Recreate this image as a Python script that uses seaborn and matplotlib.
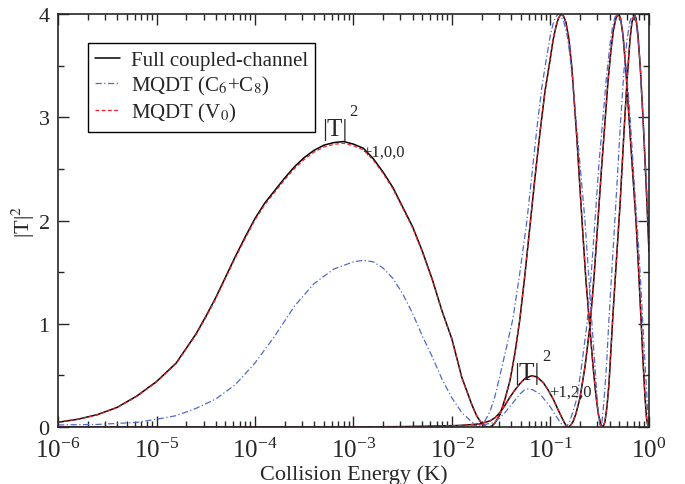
import numpy as np
import pandas as pd
import matplotlib
matplotlib.use("Agg")
import matplotlib.pyplot as plt
from matplotlib.ticker import LogLocator, MultipleLocator
import seaborn as sns

# log10(collision energy / K) and |T|^2
# |T|^2_{+1,0,0}, full coupled-channel
full_a_loge = [-6.0, -5.8, -5.6, -5.4, -5.2, -5.0, -4.8, -4.6, -4.5, -4.4,
               -4.3, -4.2, -4.1, -4.0, -3.9, -3.8, -3.7, -3.6, -3.5, -3.4,
               -3.3, -3.2, -3.1, -3.0, -2.9, -2.8, -2.7,
               -2.6, -2.5, -2.4, -2.3, -2.2, -2.1, -2.0, -1.9, -1.8, -1.75,
               -1.70, -1.66, -1.624, -1.594, -1.563, -1.513, -1.462, -1.411, -1.360, -1.310,
               -1.259, -1.208, -1.157, -1.107, -1.056, -1.005, -0.975, -0.944, -0.919, -0.893,
               -0.868, -0.843, -0.812, -0.782, -0.731, -0.680, -0.640, -0.599, -0.569, -0.538,
               -0.513, -0.487, -0.467, -0.447, -0.426, -0.406, -0.386, -0.365, -0.335, -0.294,
               -0.254, -0.223, -0.193, -0.173, -0.149, -0.132, -0.112, -0.086, -0.061, -0.036,
               -0.013, 0.0]
full_a_val = [0.046, 0.075, 0.12, 0.19, 0.30, 0.44, 0.62, 0.90, 1.07, 1.25,
              1.45, 1.65, 1.84, 2.02, 2.17, 2.29, 2.41, 2.52, 2.61, 2.68,
              2.73, 2.755, 2.765, 2.74, 2.70, 2.60, 2.47,
              2.32, 2.13, 1.94, 1.70, 1.43, 1.12, 0.85, 0.48, 0.22, 0.11,
              0.035, 0.005, 0.0, 0.01, 0.04, 0.12, 0.27, 0.45, 0.72, 1.05,
              1.48, 1.95, 2.42, 2.85, 3.25, 3.55, 3.74, 3.88, 3.96, 4.0,
              3.98, 3.92, 3.75, 3.47, 2.78, 2.0, 1.42, 0.95, 0.6, 0.3,
              0.12, 0.02, 0.0, 0.05, 0.2, 0.42, 0.75, 1.1, 1.55, 2.15,
              2.85, 3.35, 3.75, 3.92, 4.0, 3.96, 3.8, 3.45, 3.0, 2.5,
              2.0, 1.7]
# same channel, MQDT (V0)
v0_a_val = [0.045, 0.074, 0.118, 0.187, 0.296, 0.435, 0.614, 0.892, 1.06, 1.24,
            1.44, 1.638, 1.826, 2.006, 2.155, 2.275, 2.394, 2.503, 2.592, 2.663,
            2.712, 2.738, 2.748, 2.724, 2.685, 2.586, 2.457,
            2.308, 2.12, 1.93, 1.692, 1.424, 1.116, 0.847, 0.478, 0.219, 0.11,
            0.035, 0.005, 0.0, 0.01, 0.04, 0.12, 0.27, 0.45, 0.72, 1.05,
            1.48, 1.95, 2.42, 2.85, 3.25, 3.55, 3.74, 3.88, 3.96, 4.0,
            3.98, 3.92, 3.75, 3.47, 2.78, 2.0, 1.42, 0.95, 0.6, 0.3,
            0.12, 0.02, 0.0, 0.05, 0.2, 0.42, 0.75, 1.1, 1.55, 2.15,
            2.85, 3.35, 3.75, 3.92, 4.0, 3.96, 3.8, 3.45, 3.0, 2.5,
            2.0, 1.7]

# |T|^2_{+1,2,0}, full coupled-channel
full_b_loge = [-6.0, -4.0, -3.0, -2.5, -2.2, -1.919, -1.716, -1.614, -1.563, -1.513,
               -1.462, -1.411, -1.360, -1.310, -1.259, -1.191, -1.137, -1.073, -1.025, -0.972,
               -0.924, -0.886, -0.858, -0.838, -0.819, -0.797, -0.772, -0.741, -0.701, -0.650,
               -0.599, -0.558, -0.518, -0.482, -0.447, -0.416, -0.386, -0.360, -0.335, -0.312,
               -0.289, -0.264, -0.234, -0.203, -0.168, -0.132, -0.107, -0.081, -0.061, -0.041,
               -0.025, -0.013, 0.0]
full_b_val = [0.0, 0.0, 0.001, 0.004, 0.008, 0.015, 0.03, 0.06, 0.09, 0.14,
              0.21, 0.29, 0.36, 0.42, 0.47, 0.497, 0.485, 0.43, 0.36, 0.27,
              0.17, 0.094, 0.04, 0.01, 0.0, 0.015, 0.05, 0.13, 0.28, 0.58,
              0.98, 1.45, 2.0, 2.5, 2.95, 3.35, 3.65, 3.85, 3.96, 4.0,
              3.96, 3.8, 3.45, 3.0, 2.5, 2.0, 1.55, 1.05, 0.65, 0.3,
              0.09, 0.02, 0.05]
v0_b_val = [0.0, 0.0, 0.001, 0.004, 0.008, 0.015, 0.03, 0.06, 0.09, 0.14,
            0.21, 0.29, 0.36, 0.42, 0.468, 0.494, 0.483, 0.43, 0.36, 0.27,
            0.17, 0.094, 0.04, 0.01, 0.0, 0.015, 0.05, 0.13, 0.28, 0.58,
            0.98, 1.45, 2.0, 2.5, 2.95, 3.35, 3.65, 3.85, 3.96, 4.0,
            3.96, 3.8, 3.45, 3.0, 2.5, 2.0, 1.55, 1.05, 0.65, 0.3,
            0.09, 0.02, 0.05]

# MQDT (C6+C8), both channels
c68_a_loge = [-6.0, -5.6, -5.2, -5.0, -4.8, -4.6, -4.4, -4.2, -4.0, -3.8,
              -3.6, -3.4, -3.2, -3.0, -2.9, -2.8, -2.7, -2.6, -2.5, -2.4,
              -2.3, -2.2, -2.1, -2.0, -1.9, -1.8, -1.76, -1.736, -1.701, -1.665,
              -1.614, -1.563, -1.513, -1.452, -1.381, -1.310, -1.239, -1.188, -1.137, -1.086,
              -1.036, -1.0, -0.975, -0.949, -0.921, -0.893, -0.863, -0.832, -0.802, -0.751,
              -0.701, -0.650, -0.614, -0.579, -0.553, -0.528, -0.513, -0.497, -0.477, -0.457,
              -0.431, -0.406, -0.365, -0.325, -0.289, -0.254, -0.223, -0.193, -0.162, -0.142,
              -0.122, -0.096, -0.071, -0.046, -0.020, 0.0]
c68_a_val = [0.02, 0.025, 0.045, 0.075, 0.11, 0.18, 0.27, 0.41, 0.62, 0.88,
             1.17, 1.39, 1.53, 1.60, 1.615, 1.60, 1.54, 1.44, 1.29, 1.10,
             0.88, 0.68, 0.46, 0.28, 0.14, 0.05, 0.015, 0.0, 0.015, 0.06,
             0.15, 0.30, 0.5, 0.75, 1.05, 1.5, 2.0, 2.45, 2.9, 3.3,
             3.6, 3.8, 3.9, 3.97, 4.0, 3.98, 3.92, 3.8, 3.6, 3.1,
             2.55, 2.0, 1.5, 1.0, 0.65, 0.3, 0.12, 0.0, 0.05, 0.25,
             0.6, 1.05, 1.7, 2.35, 2.95, 3.45, 3.75, 3.93, 4.0, 3.97,
             3.85, 3.6, 3.15, 2.75, 2.25, 1.9]
c68_b_loge = [-6.0, -3.0, -2.2, -1.817, -1.695, -1.584, -1.513, -1.462, -1.411, -1.360,
              -1.310, -1.269, -1.225, -1.178, -1.107, -1.056, -1.005, -0.954, -0.904, -0.878,
              -0.853, -0.827, -0.802, -0.772, -0.734, -0.690, -0.629, -0.589, -0.548, -0.508,
              -0.467, -0.431, -0.396, -0.371, -0.345, -0.322, -0.299, -0.279, -0.254, -0.223,
              -0.188, -0.152, -0.127, -0.102, -0.076, -0.051, -0.030, -0.010, 0.0]
c68_b_val = [0.0, 0.0, 0.004, 0.01, 0.02, 0.04, 0.09, 0.14, 0.2, 0.26,
             0.32, 0.355, 0.37, 0.36, 0.32, 0.26, 0.2, 0.12, 0.05, 0.02,
             0.0, 0.02, 0.06, 0.15, 0.27, 0.55, 1.0, 1.45, 2.0, 2.55,
             3.0, 3.4, 3.7, 3.87, 3.97, 4.0, 3.97, 3.9, 3.7, 3.4,
             2.95, 2.4, 2.05, 1.7, 1.25, 0.8, 0.45, 0.1, 0.05]

sns.set_style("ticks")
plt.rcParams["font.family"] = ["Liberation Serif", "DejaVu Serif"]
plt.rcParams["mathtext.fontset"] = "stix"

fig = plt.figure(figsize=(6.85, 4.85), dpi=100)
ax = fig.add_axes([0.0847, 0.1175, 0.8627, 0.8515])


def draw(loge, val, color, ls, lw, label=None):
    df = pd.DataFrame({"E": 10.0 ** np.array(loge), "T2": val})
    sns.lineplot(data=df, x="E", y="T2", ax=ax, color=color, linestyle=ls,
                 linewidth=lw, label=label, estimator=None, sort=True)


blk, blu, red = "#000000", "#5069cc", "#e8232b"
dashdot = (0, (5, 2, 1, 2))
dashed = (0, (3, 2))
draw(full_a_loge, full_a_val, blk, "-", 1.1, "Full coupled-channel")
draw(full_b_loge, full_b_val, blk, "-", 1.1)
draw(c68_a_loge, c68_a_val, blu, dashdot, 0.9, "MQDT (C$_6$+C$_8$)")
draw(c68_b_loge, c68_b_val, blu, dashdot, 0.9)
draw(full_a_loge, v0_a_val, red, dashed, 0.9, "MQDT (V$_0$)")
draw(full_b_loge, v0_b_val, red, dashed, 0.9)

ax.set_xscale("log")
ax.set_xlim(1e-6, 1)
ax.set_ylim(0, 4)
ax.xaxis.set_major_locator(LogLocator(base=10, numticks=10))
ax.xaxis.set_minor_locator(LogLocator(base=10, subs=np.arange(2, 10), numticks=20))
ax.yaxis.set_major_locator(MultipleLocator(1))
ax.yaxis.set_minor_locator(MultipleLocator(0.5))
ax.tick_params(which="both", direction="in", top=True, right=True)
ax.tick_params(axis="y", labelsize=16, pad=6)
ax.tick_params(axis="x", labelsize=18, pad=8)
ax.tick_params(which="major", length=8, width=1)
ax.tick_params(which="minor", length=4, width=1)
for s in ax.spines.values():
    s.set_linewidth(1.2)

ax.set_xlabel("Collision Energy (K)", fontsize=16, labelpad=1)
ax.set_ylabel(r"|T|$^2$", fontsize=16)
ax.yaxis.set_label_coords(-0.036, 0.5)

# curve labels: |T| with superscript 2 and channel subscript set after it
for base, sup, sub, txt in [((-3.32, 2.83), (-3.046, 3.02), (-2.914, 2.625), "+1,0,0"),
                            ((-1.371, 0.465), (-1.086, 0.65), (-1.015, 0.30), "+1,2,0")]:
    ax.text(10 ** base[0], base[1], "|T|", fontsize=18, ha="left", va="baseline")
    ax.text(10 ** sup[0], sup[1], "2", fontsize=12, ha="left", va="baseline")
    ax.text(10 ** sub[0], sub[1], txt, fontsize=12, ha="left", va="baseline")

leg = ax.legend(loc="upper left", bbox_to_anchor=(0.051, 0.93), fontsize=15,
                frameon=True, fancybox=False, edgecolor="black", framealpha=1,
                handlelength=1.2, handletextpad=0.5, borderpad=0.35, labelspacing=0.2,
                borderaxespad=0)
leg.get_frame().set_linewidth(1.0)

fig.savefig("out.png", dpi=100)
